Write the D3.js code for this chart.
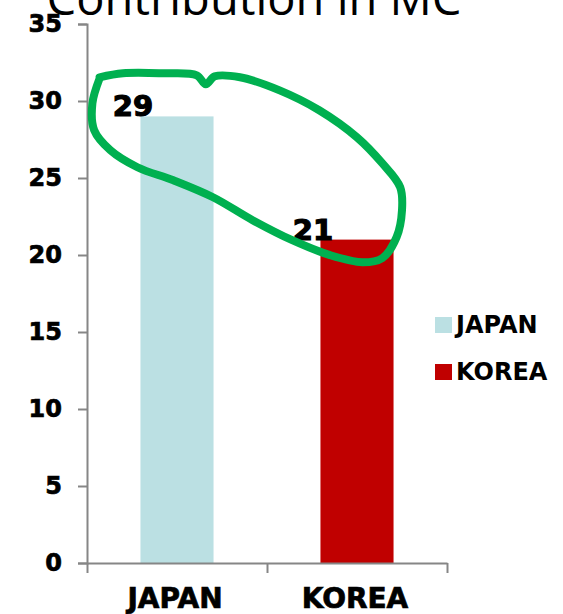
<!DOCTYPE html>
<html lang="en">
<head>
  <meta charset="UTF-8">
  <title>Contribution in MC</title>
  <script src="https://cdn.jsdelivr.net/npm/d3@7"></script>
  <style>
    body { margin: 0; background: #fff; }
    .tick text { font-family: "DejaVu Sans", Verdana, sans-serif; font-weight: bold; fill: #000; }
    .heavy { stroke: #000; stroke-width: 0.7px; }
  </style>
</head>
<body>
  <script>

    // data
    var categories = ["JAPAN", "KOREA"];
    var values = [29, 21];
    var colors = ["#bbe0e3", "#c00000"];
    var yTicks = [0, 5, 10, 15, 20, 25, 30, 35];

    // hand drawn green loop, in [category position, value]
    var loopPoints = [
      [0.07, 31.54], [0.2, 31.8], [0.42, 31.8], [0.61, 31.67], [0.66, 31.08],
      [0.71, 31.6], [0.85, 31.54], [1.07, 30.69], [1.29, 29.4], [1.5, 27.64],
      [1.64, 25.96], [1.74, 24.4], [1.75, 22.91], [1.72, 21.16], [1.64, 19.79],
      [1.53, 19.53], [1.35, 19.99], [1.14, 20.96], [0.92, 22.26], [0.7, 23.75],
      [0.48, 24.85], [0.28, 25.7], [0.13, 26.8], [0.04, 28.1], [0.03, 29.85],
      [0.07, 31.47]
    ];

    var drawChart = function() {

      var width = 563;
      var height = 614;
      var plotLeft = 87, plotRight = 447, plotTop = 24, plotBottom = 563;
      var axisColor = "#868686";

      var svg = d3.select("body")
        .append("svg")
          .attr("width", width)
          .attr("height", height);

      var x = d3.scaleBand()
        .domain(categories)
        .range([plotLeft, plotRight])
        .paddingInner(0.594)
        .paddingOuter(0.297);

      var xPos = d3.scaleLinear()
        .domain([0, categories.length])
        .range([plotLeft, plotRight]);

      var y = d3.scaleLinear()
        .domain([0, 35])
        .range([plotBottom, plotTop]);

      // title (cut off at top)
      svg.append("text")
        .attr("x", 254)
        .attr("y", 15)
        .attr("text-anchor", "middle")
        .style("font-family", "'Open Sans', sans-serif")
        .style("font-size", "47px")
        .text("Contribution in MC");

      // bars
      svg.selectAll("rect.bar")
        .data(values)
        .enter()
        .append("rect")
          .attr("class", "bar")
          .attr("x", function(d, i) { return x(categories[i]); })
          .attr("y", function(d) { return y(d); })
          .attr("width", x.bandwidth())
          .attr("height", function(d) { return y(0) - y(d); })
          .attr("fill", function(d, i) { return colors[i]; });

      // y axis
      var yAxis = svg.append("g")
        .attr("transform", "translate(" + plotLeft + ",0)")
        .call(d3.axisLeft(y).tickValues(yTicks).tickSize(9).tickPadding(16));
      yAxis.selectAll(".tick text")
        .attr("class", "heavy")
        .style("font-size", "24px");

      // x axis
      svg.append("g")
        .attr("transform", "translate(0," + plotBottom + ")")
        .call(d3.axisBottom(xPos).tickValues([0, 1, 2]).tickSize(10).tickSizeOuter(0).tickFormat(""));

      svg.selectAll(".domain, .tick line")
        .attr("stroke", axisColor)
        .attr("stroke-width", 2);

      svg.selectAll("text.cat")
        .data(categories)
        .enter()
        .append("text")
          .attr("class", "cat heavy")
          .attr("x", function(d) { return x(d) + x.bandwidth() / 2 - 2; })
          .attr("y", 608)
          .attr("text-anchor", "middle")
          .style("font-family", "'DejaVu Sans', sans-serif")
          .style("font-weight", "bold")
          .style("font-size", "28px")
          .text(function(d) { return d; });

      // data labels, sitting left of the bar tops
      svg.selectAll("text.val")
        .data(values)
        .enter()
        .append("text")
          .attr("class", "val heavy")
          .attr("x", function(d, i) { return x(categories[i]) + x.bandwidth() / 2 - 44; })
          .attr("y", function(d) { return y(d); })
          .attr("text-anchor", "middle")
          .style("font-family", "'DejaVu Sans', sans-serif")
          .style("font-weight", "bold")
          .style("font-size", "29px")
          .style("stroke-width", "1.2px")
          .text(function(d) { return d; });

      // legend
      var legend = svg.selectAll("g.legend")
        .data(categories)
        .enter()
        .append("g")
          .attr("class", "legend")
          .attr("transform", function(d, i) { return "translate(435," + (317 + i * 47) + ")"; });

      legend.append("rect")
        .attr("width", 17)
        .attr("height", 16)
        .attr("fill", function(d, i) { return colors[i]; });

      legend.append("text")
        .attr("x", 21)
        .attr("y", 16)
        .style("font-family", "'DejaVu Sans', sans-serif")
        .style("font-weight", "bold")
        .style("font-size", "24px")
        .text(function(d) { return d; });

      // green marker loop
      var loopLine = d3.line()
        .x(function(d) { return xPos(d[0]); })
        .y(function(d) { return y(d[1]); })
        .curve(d3.curveCatmullRom);

      svg.append("path")
        .datum(loopPoints)
        .attr("d", loopLine)
        .attr("fill", "none")
        .attr("stroke", "#00b050")
        .attr("stroke-width", 8)
        .attr("stroke-linejoin", "round")
        .attr("stroke-linecap", "round");
    };

    drawChart();

  </script>
</body>
</html>
